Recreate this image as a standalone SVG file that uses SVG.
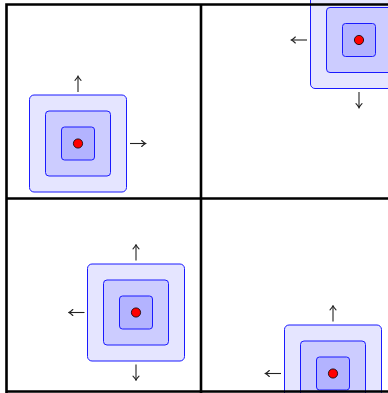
<svg xmlns="http://www.w3.org/2000/svg" xmlns:xlink="http://www.w3.org/1999/xlink" width="388" height="393" viewBox="0 0 388 393">
<style>
.o{fill:#e5e5ff;stroke:#1a1aff;stroke-width:1}
.m{fill:#ccccff;stroke:#1a1aff;stroke-width:1}
.i{fill:#b3b3ff;stroke:#1a1aff;stroke-width:1}
.d{fill:#ff0000;stroke:#000;stroke-width:0.8}
.a{fill:none;stroke:#222;stroke-width:1.1;marker-end:url(#h)}
.g{stroke:#000;stroke-width:2.6;fill:none}
</style>
<defs>
<marker id="h" viewBox="-4 -4 6 8" markerWidth="6" markerHeight="8" refX="0.8" refY="0" orient="auto" markerUnits="userSpaceOnUse">
<path d="M-3,-3 Q-0.5,-0.6 1,0 Q-0.5,0.6 -3,3" fill="none" stroke="#222" stroke-width="1.1" stroke-linecap="round"/>
</marker>
<g id="cluster">
<rect class="o" x="-48.5" y="-48.5" width="97" height="97" rx="4.5"/>
<rect class="m" x="-32.5" y="-32.5" width="65" height="65" rx="3.5"/>
<rect class="i" x="-16.5" y="-16.5" width="33" height="33" rx="3"/>
<circle class="d" cx="0" cy="0" r="4.6"/>
</g>
</defs>
<rect width="388" height="393" fill="#fff"/>
<g id="node1"><use xlink:href="#cluster" transform="translate(78,143.5)"/></g>
<g id="node2"><use xlink:href="#cluster" transform="translate(359,40)"/></g>
<g id="node3"><use xlink:href="#cluster" transform="translate(136,312.5)"/></g>
<g id="node4"><use xlink:href="#cluster" transform="translate(333,373.5)"/></g>
<g id="connectors">
<path class="a" d="M78,92 V76.5"/>
<path class="a" d="M130,143.5 H145.5"/>
<path class="a" d="M307,40 H291.5"/>
<path class="a" d="M359,92 V107.5"/>
<path class="a" d="M136,260.5 V245"/>
<path class="a" d="M136,364.5 V380"/>
<path class="a" d="M84.5,312.5 H69"/>
<path class="a" d="M333,321.5 V306"/>
<path class="a" d="M281,373.5 H265.5"/>
</g>
<g id="grid">
<path class="g" d="M6.5,3.2 V393 M201,3.2 V393 M5.2,4.5 H388 M5.2,198.5 H388 M5.2,391.5 H388"/>
</g>
</svg>
